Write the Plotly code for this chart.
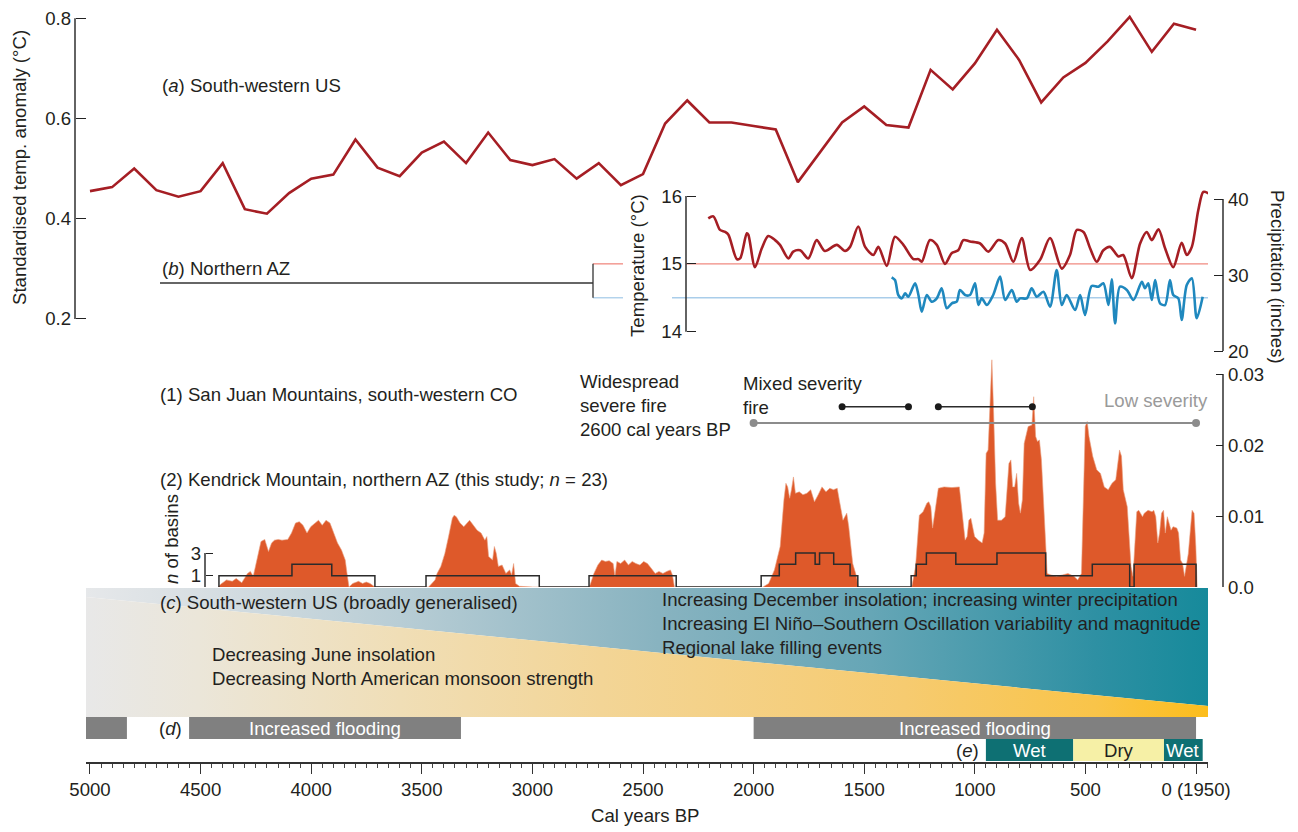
import plotly.graph_objects as go

W, H = 1298, 832
def px(x): return x / W
def py(y): return 1 - y / H

FONT = "Liberation Sans, Arial, Helvetica, sans-serif"
TXT = "#231F20"
FS = 18.6

# ---------------- data ----------------
# (a) South-western US standardised temperature anomaly
years_a = list(range(5000, -1, -100))
temp_anom = [0.455, 0.463, 0.500, 0.457, 0.444, 0.455, 0.511, 0.419, 0.410, 0.451, 0.480, 0.488, 0.558, 0.502, 0.485,
             0.532, 0.554, 0.511, 0.572, 0.517, 0.507, 0.519, 0.480, 0.511, 0.467, 0.489, 0.590, 0.636, 0.592, 0.592,
             0.585, 0.578, 0.473, 0.532, 0.592, 0.624, 0.587, 0.582, 0.697, 0.658, 0.710, 0.777, 0.717, 0.632, 0.682,
             0.711, 0.754, 0.803, 0.733, 0.789, 0.777]

# (b) Northern AZ temperature (deg C) and precipitation (inches)
red_years = [2205, 2182, 2152, 2129, 2114, 2076, 2061, 2031, 2024, 1994, 1963, 1934, 1903, 1881, 1843, 1821, 1790, 1753,
             1715, 1678, 1624, 1587, 1564, 1527, 1496, 1459, 1436, 1398, 1361, 1323, 1278, 1255, 1240, 1203, 1172, 1135,
             1104, 1075, 1052, 1022, 976, 939, 894, 863, 826, 788, 750, 705, 660, 607, 570, 539, 509, 479, 449, 419,
             389, 351, 329, 291, 253, 223, 200, 170, 140, 103, 65, 42, 19, -10, -33, -56]
red_temp = [15.67, 15.70, 15.50, 15.47, 15.43, 15.07, 15.08, 15.45, 15.43, 14.95, 15.23, 15.41, 15.35, 15.28, 15.08, 15.18,
            15.20, 15.08, 15.35, 15.19, 15.28, 15.19, 15.25, 15.55, 15.25, 15.13, 15.25, 14.97, 15.40, 15.28, 15.07, 15.07,
            15.03, 15.35, 15.28, 15.00, 15.16, 15.20, 15.35, 15.33, 15.30, 15.18, 15.35, 15.30, 15.03, 15.38, 14.91, 15.06,
            15.38, 14.93, 15.13, 15.50, 15.47, 15.23, 15.03, 15.20, 15.25, 15.11, 15.13, 14.79, 15.30, 15.47, 15.35, 15.51,
            15.23, 14.95, 15.31, 15.13, 15.25, 15.79, 16.06, 16.04]
blue_years = [1376, 1361, 1346, 1330, 1315, 1301, 1270, 1255, 1240, 1217, 1195, 1172, 1150, 1127, 1104, 1082, 1067, 1044,
              1022, 999, 984, 969, 946, 917, 886, 863, 833, 811, 796, 765, 743, 720, 690, 660, 630, 607, 585, 547, 524,
              502, 472, 442, 419, 396, 381, 366, 344, 313, 283, 245, 231, 216, 200, 185, 163, 140, 118, 103, 80, 65, 42,
              19, -3, -30]
blue_prec = [29.70, 29.34, 27.37, 26.93, 27.59, 27.14, 28.91, 27.37, 25.17, 27.37, 26.49, 26.93, 28.25, 25.62, 26.28,
             26.49, 28.03, 27.37, 27.37, 28.91, 26.05, 26.93, 26.05, 27.37, 29.78, 26.71, 28.03, 26.49, 26.93, 26.93,
             28.25, 27.14, 27.80, 25.83, 30.66, 26.05, 27.37, 25.39, 27.37, 24.74, 28.55, 28.46, 28.91, 26.05, 29.43,
             23.64, 28.46, 28.03, 26.71, 29.12, 28.25, 28.91, 26.71, 29.34, 26.28, 26.05, 29.34, 27.37, 26.93, 24.08,
             28.68, 29.57, 24.30, 27.14]
temp_ref = 15.0
prec_ref_temp = 14.5

# (2) Kendrick Mountain fire activity (area) and number of basins (step)
fire_years = ([4420, 4409, 4383, 4357, 4339, 4314, 4288, 4275, 4262, 4244, 4227, 4210, 4193, 4179, 4166, 4149, 4132, 4106,
               4089, 4071, 4054, 4037, 4019, 4002, 3985, 3967, 3950, 3933, 3915, 3898, 3881, 3863, 3846, 3838, 3829, 3812,
               3786, 3768, 3751, 3734, 3717, 3712]
              + [3470, 3466, 3440, 3431, 3414, 3396, 3379, 3362, 3354, 3344, 3327, 3310, 3284, 3267, 3250, 3232, 3215,
                 3206, 3198, 3180, 3172, 3163, 3154, 3137, 3120, 3103, 3094, 3085, 3076, 3059, 2999]
              + [2745, 2739, 2722, 2704, 2687, 2670, 2653, 2635, 2627, 2618, 2601, 2583, 2566, 2549, 2532, 2514, 2497,
                 2480, 2462, 2445, 2428, 2410, 2393, 2376, 2367, 2358]
              + [1958, 1932, 1906, 1880, 1863, 1854, 1846, 1837, 1829, 1820, 1811, 1794, 1777, 1759, 1742, 1725, 1708,
                 1691, 1673, 1656, 1639, 1622, 1613, 1596, 1579, 1570, 1552, 1535, 1527]
              + [1285, 1268, 1251, 1234, 1217, 1208, 1199, 1191, 1173, 1165, 1139, 1104, 1070, 1061, 1052, 1044, 1035,
                 1027, 1018, 1009, 1001, 984, 967, 958, 949, 940, 932, 923, 915, 906, 897, 880, 863, 846, 837, 829, 820,
                 811, 802, 794, 785, 777, 759, 742, 734, 725, 717, 708, 699, 691, 682, 673, 656, 630, 604, 579, 552, 535,
                 518, 501, 492, 484, 467, 449, 432, 415, 397, 380, 363, 346, 337, 329, 311, 294, 285, 268, 259, 242, 234,
                 217, 199, 191, 182, 173, 165, 156, 147, 139, 130, 113, 104, 87, 79, 70, 61, 52, 35, 18, 9, 1, -5])
fire_vals = ([0, 0.0004, 0.0010, 0.0008, 0.0012, 0.0006, 0.0019, 0.0022, 0.0015, 0.0038, 0.0064, 0.0067, 0.0050, 0.0062,
              0.0066, 0.0067, 0.0066, 0.0067, 0.0076, 0.0090, 0.0092, 0.0087, 0.0076, 0.0085, 0.0090, 0.0094, 0.0087,
              0.0094, 0.0090, 0.0076, 0.0062, 0.0052, 0.0038, 0.0019, 0.0000, 0.0005, 0.0008, 0.0005, 0.0007, 0.0005,
              0.0001, 0]
             + [0, 0.0001, 0.0010, 0.0019, 0.0029, 0.0047, 0.0071, 0.0097, 0.0101, 0.0099, 0.0090, 0.0085, 0.0094, 0.0087,
                0.0080, 0.0076, 0.0066, 0.0071, 0.0043, 0.0038, 0.0057, 0.0047, 0.0029, 0.0031, 0.0019, 0.0024, 0.0017,
                0.0033, 0.0005, 0.0001, 0]
             + [0, 0.0003, 0.0019, 0.0031, 0.0038, 0.0036, 0.0037, 0.0033, 0.0015, 0.0036, 0.0033, 0.0038, 0.0031, 0.0036,
                0.0033, 0.0031, 0.0036, 0.0033, 0.0026, 0.0019, 0.0022, 0.0019, 0.0022, 0.0024, 0.0017, 0]
             + [0, 0.0005, 0.0024, 0.0057, 0.0123, 0.0146, 0.0141, 0.0125, 0.0137, 0.0155, 0.0132, 0.0134, 0.0130, 0.0132,
                0.0137, 0.0120, 0.0130, 0.0141, 0.0134, 0.0139, 0.0137, 0.0139, 0.0123, 0.0094, 0.0104, 0.0085, 0.0033,
                0.0015, 0]
             + [0, 0.0029, 0.0101, 0.0106, 0.0118, 0.0120, 0.0113, 0.0083, 0.0123, 0.0139, 0.0141, 0.0140, 0.0141, 0.0113,
                0.0085, 0.0066, 0.0071, 0.0094, 0.0097, 0.0085, 0.0071, 0.0066, 0.0062, 0.0076, 0.0188, 0.0193, 0.0259,
                0.0320, 0.0245, 0.0146, 0.0094, 0.0094, 0.0099, 0.0174, 0.0179, 0.0141, 0.0141, 0.0160, 0.0118, 0.0104,
                0.0123, 0.0202, 0.0226, 0.0228, 0.0268, 0.0212, 0.0205, 0.0207, 0.0179, 0.0132, 0.0085, 0.0019, 0.0017,
                0.0015, 0.0017, 0.0019, 0.0015, 0.0010, 0.0019, 0.0226, 0.0233, 0.0212, 0.0184, 0.0165, 0.0160, 0.0141,
                0.0137, 0.0146, 0.0151, 0.0193, 0.0184, 0.0137, 0.0113, 0.0029, 0.0015, 0.0106, 0.0108, 0.0099, 0.0104,
                0.0108, 0.0106, 0.0108, 0.0099, 0.0062, 0.0076, 0.0104, 0.0108, 0.0076, 0.0099, 0.0080, 0.0085, 0.0083,
                0.0076, 0.0038, 0.0033, 0.0015, 0.0047, 0.0108, 0.0104, 0.0057, 0])
step_years = [4417, 4417, 4087, 3907, 3712, 3481, 2969, 2744, 2350, 1966, 1884, 1810, 1722, 1702, 1638, 1564, 1529, 1288,
              1265, 1219, 1086, 900, 680, 469, 300, 280, 0]
step_n = [0, 1, 2, 1, 0, 1, 0, 1, 0, 1, 2, 3, 2, 3, 2, 1, 0, 1, 2, 3, 2, 3, 1, 2, 0, 2, 0]

# (1) San Juan Mountains fire severity periods (cal years BP)
mixed_periods = [(1600, 1300), (1165, 740)]
low_period = (2000, 0)

# (c) band extent, (d) flooding, (e) wet/dry
band_years = (5018, -54)
flood_periods = [(5018, 4833, ""), (4552, 3323, "Increased flooding"), (2000, 0, "Increased flooding")]
climate_periods = [(950, 555, "Wet", "#0E7073", "white"), (555, 145, "Dry", "#F6F0A6", TXT),
                   (145, -30, "Wet", "#0E7073", "white")]

x_ticks = [5000, 4500, 4000, 3500, 3000, 2500, 2000, 1500, 1000, 500, 0]
x_ticktext = ["5000", "4500", "4000", "3500", "3000", "2500", "2000", "1500", "1000", "500", "0 (1950)"]

# ---------------- figure ----------------
fig = go.Figure()

# (c) gradient band (hidden axis y6, fraction of band height)
div_left, div_right = 0.93, 0.085
upper_scale = [[0, "#168A9B"], [0.1, "#2E90A3"], [0.3, "#66A6B6"], [0.49, "#88B3C0"],
               [0.72, "#B8CDD5"], [0.9, "#D8DFE3"], [1, "#E6E8EA"]]
lower_scale = [[0, "#FCBD1C"], [0.1, "#F9C449"], [0.27, "#F6CB70"], [0.54, "#F3D596"],
               [0.72, "#F0DEB6"], [0.9, "#EBE6D9"], [1, "#E8E8E8"]]
fig.add_trace(go.Scatter(
    x=[band_years[0], band_years[1], band_years[1], band_years[0], band_years[0]],
    y=[1, 1, div_right, div_left, 1], mode="lines", line=dict(width=0), fill="toself",
    fillgradient=dict(type="horizontal", colorscale=upper_scale, start=band_years[1], stop=band_years[0]),
    xaxis="x", yaxis="y6", hoverinfo="skip"))
fig.add_trace(go.Scatter(
    x=[band_years[0], band_years[1], band_years[1], band_years[0], band_years[0]],
    y=[div_left, div_right, 0, 0, div_left], mode="lines", line=dict(width=0), fill="toself",
    fillgradient=dict(type="horizontal", colorscale=lower_scale, start=band_years[1], stop=band_years[0]),
    xaxis="x", yaxis="y6", hoverinfo="skip"))

# fire area
fig.add_trace(go.Scatter(x=fire_years, y=fire_vals, mode="lines", line=dict(width=0.6, color="#E9A080"),
                         fill="tozeroy", fillcolor="#DE592A", xaxis="x", yaxis="y4", hoverinfo="skip"))
# n of basins step
fig.add_trace(go.Scatter(x=step_years, y=step_n, mode="lines", line=dict(width=1.5, color="#2b2b2b", shape="hv"),
                         xaxis="x", yaxis="y5", hoverinfo="skip"))

# severity markers
for a, b in mixed_periods:
    fig.add_trace(go.Scatter(x=[a, b], y=[0.0254, 0.0254], mode="lines+markers",
                             line=dict(color="#2b2b2b", width=1.5), marker=dict(size=7, color="#1a1a1a"),
                             xaxis="x", yaxis="y4", hoverinfo="skip"))
fig.add_trace(go.Scatter(x=list(low_period), y=[0.0231, 0.0231], mode="lines+markers",
                         line=dict(color="#8C8C8C", width=2), marker=dict(size=8, color="#8C8C8C"),
                         xaxis="x", yaxis="y4", hoverinfo="skip"))

# (a) temperature anomaly
fig.add_trace(go.Scatter(x=years_a, y=temp_anom, mode="lines", line=dict(color="#A51E24", width=2.6),
                         xaxis="x", yaxis="y", hoverinfo="skip"))
# (b) inset
fig.add_trace(go.Scatter(x=red_years, y=red_temp, mode="lines",
                         line=dict(color="#A51E24", width=2.6, shape="spline", smoothing=0.8),
                         xaxis="x", yaxis="y2", hoverinfo="skip"))
fig.add_trace(go.Scatter(x=blue_years, y=blue_prec, mode="lines",
                         line=dict(color="#1F88BE", width=2.6, shape="spline", smoothing=0.8),
                         xaxis="x", yaxis="y3", hoverinfo="skip"))

def yax(domain, rng, pos, tickvals, ticktext, side="left", ticklen=9, standoff=4):
    return dict(domain=domain, range=rng, anchor="free", position=pos, side=side, automargin=False,
                showline=False, showgrid=False, zeroline=False, ticks="inside", ticklen=ticklen,
                tickwidth=1.4, tickcolor="#222", tickvals=tickvals, ticktext=ticktext,
                tickfont=dict(size=FS, color=TXT, family=FONT), ticklabelstandoff=standoff, fixedrange=True)

fig.update_layout(
    template="none",
    width=W, height=H, margin=dict(l=0, r=0, t=0, b=0, pad=0, autoexpand=False), showlegend=False,
    paper_bgcolor="white", plot_bgcolor="rgba(0,0,0,0)", font=dict(family=FONT, size=FS, color=TXT),
    xaxis=dict(domain=[px(86), px(1208)], range=[5018, -54], anchor="free", position=py(763), automargin=False,
               showline=True, linecolor="#333", linewidth=1.5, showgrid=False, zeroline=False,
               ticks="outside", ticklen=10, tickwidth=1.4, tickcolor="#333",
               tickvals=x_ticks, ticktext=x_ticktext, tickfont=dict(size=FS, color=TXT, family=FONT),
               minor=dict(ticks="outside", ticklen=4, tickwidth=1, tickcolor="#444", dtick=50, tick0=0,
                          showgrid=False),
               fixedrange=True),
    yaxis=yax([py(320), py(14)], [0.8 - (320 - 18.3) / 501, 0.8 + (18.3 - 14) / 501], px(75),
              [0.2, 0.4, 0.6, 0.8], ["0.2", "0.4", "0.6", "0.8"], ticklen=10),
    yaxis2=yax([py(340), py(186)], [16 - (340 - 196) / 67.85, 16 + 10 / 67.85], px(686),
               [14, 15, 16], ["14", "15", "16"]),
    yaxis3=yax([py(355), py(186)], [30 - (355 - 275) / 7.6, 30 + (275 - 186) / 7.6], px(1223),
               [20, 30, 40], ["20", "30", "40"], side="right"),
    yaxis4=yax([py(587), py(355)], [0, (587 - 355) / 7100], px(1223),
               [0, 0.01, 0.02, 0.03], ["0.0", "0.01", "0.02", "0.03"], side="right", ticklen=7),
    yaxis5=yax([py(587), py(355)], [0, (587 - 355) / 11.33], px(205),
               [0, 1, 3], ["", "1", "3"], ticklen=7),
    yaxis6=dict(domain=[py(717), py(588)], range=[0, 1], anchor="x", visible=False, fixedrange=True,
                automargin=False),
)

shapes = []
def vline(x, yref, y0, y1, color="#222", width=1.4, layer="above"):
    shapes.append(dict(type="line", xref="paper", yref=yref, x0=px(x), x1=px(x), y0=y0, y1=y1,
                       line=dict(color=color, width=width), layer=layer))
def hline(x0, x1, yref, y, color, width=1.3, layer="below"):
    shapes.append(dict(type="line", xref="paper", yref=yref, x0=px(x0), x1=px(x1), y0=y, y1=y,
                       line=dict(color=color, width=width), layer=layer))

# axis spines
vline(75, "y", 0.2, 0.8)
vline(686, "y2", 14, 16)
vline(1223, "y3", 20, 40)
vline(1223, "y4", 0, 0.03)
vline(205, "y5", 0, 3)

# (b) bracket and reference lines
shapes.append(dict(type="line", xref="paper", yref="paper", x0=px(160), x1=px(593), y0=py(283), y1=py(283),
                   line=dict(color="#333", width=1.3)))
vline(593, "y2", prec_ref_temp, temp_ref, color="#333", width=1.3)
hline(593, 623, "y2", temp_ref, "#F08A80")
hline(686, 1208, "y2", temp_ref, "#F08A80")
hline(593, 623, "y2", prec_ref_temp, "#A9CDEA")
hline(672, 1208, "y2", prec_ref_temp, "#A9CDEA")

# (d) flooding bars and (e) climate bars
for a, b, lab in flood_periods:
    shapes.append(dict(type="rect", xref="x", yref="paper", x0=a, x1=b, y0=py(739), y1=py(717),
                       fillcolor="#808080", line=dict(width=0)))
for a, b, lab, col, tcol in climate_periods:
    shapes.append(dict(type="rect", xref="x", yref="paper", x0=a, x1=b, y0=py(761), y1=py(739),
                       fillcolor=col, line=dict(width=0)))
fig.update_layout(shapes=shapes)

ann = []
def text(x, y, s, xanchor="left", color=TXT, size=FS, angle=0, xref="paper"):
    ann.append(dict(x=px(x) if xref == "paper" else x, y=py(y), xref=xref, yref="paper", text=s,
                    showarrow=False, xanchor=xanchor, yanchor="middle", textangle=angle,
                    font=dict(size=size, color=color, family=FONT), align="left"))

text(160, 86, "(<i>a</i>) South-western US")
text(160, 268, "(<i>b</i>) Northern AZ")
text(158, 394, "(1) San Juan Mountains, south-western CO")
text(158, 479, "(2) Kendrick Mountain, northern AZ (this study; <i>n</i> = 23)")
text(578, 406, "Widespread<br>severe fire<br>2600 cal years BP")
text(741, 395, "Mixed severity<br>fire")
text(1210, 400, "Low severity", xanchor="right", color="#9A9A9A")
text(158, 602, "(<i>c</i>) South-western US (broadly generalised)")
text(210, 666, "Decreasing June insolation<br>Decreasing North American monsoon strength")
text(660, 623, "Increasing December insolation; increasing winter precipitation<br>"
               "Increasing El Niño–Southern Oscillation variability and magnitude<br>"
               "Regional lake filling events")
text(170, 728, "(<i>d</i>)", xanchor="center")
for a, b, lab in flood_periods:
    if lab:
        text((a + b) / 2, 728, lab, xanchor="center", color="white", xref="x")
text(981, 750, "(<i>e</i>)", xanchor="right")
for a, b, lab, col, tcol in climate_periods:
    text((a + b) / 2, 750, lab, xanchor="center", color=tcol, xref="x")

text(20, 168, "Standardised temp. anomaly (°C)", xanchor="center", angle=-90)
text(637, 266, "Temperature (°C)", xanchor="center", angle=-90)
text(1278, 277, "Precipitation (inches)", xanchor="center", angle=90)
text(171, 539, "<i>n</i> of basins", xanchor="center", angle=-90)
text(645, 815, "Cal years BP", xanchor="center")
fig.update_layout(annotations=ann)

fig.write_html("out.html", config={"displayModeBar": False},
               post_script="document.body.style.margin='0px';document.body.style.padding='0px';")
